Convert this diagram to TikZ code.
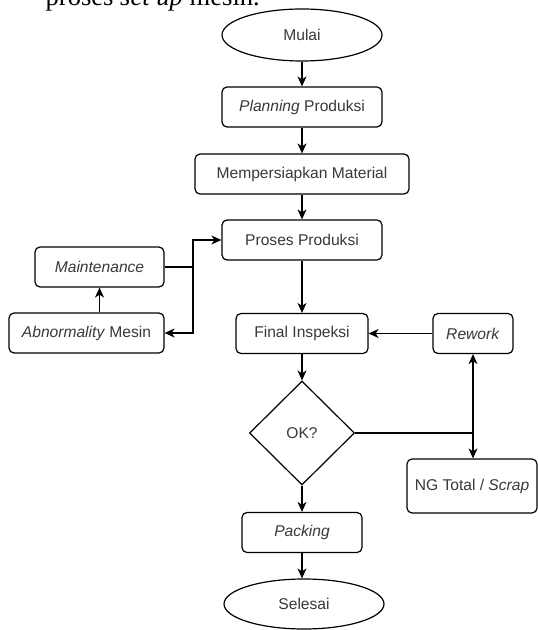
\documentclass[tikz,border=0pt]{standalone}
\usepackage{fontspec}
\setmainfont{Liberation Sans}
\newfontfamily\pageserif{Liberation Serif}
\usetikzlibrary{shapes.geometric,arrows.meta}

\begin{document}
\begin{tikzpicture}[x=0.5pt, y=-0.5pt, line width=0.6pt,
    every node/.style={font=\fontsize{7.8}{9.4}\selectfont, text=black!78},
    proc/.style={draw=black, rounded corners=2.5pt, inner sep=0pt, minimum height=20pt},
    term/.style={draw=black, ellipse, inner sep=0pt, minimum width=80pt, minimum height=26pt},
    decide/.style={draw=black, diamond, aspect=1, inner sep=0pt, minimum width=52.5pt, minimum height=52pt},
    flow/.style={-{Stealth[length=5pt,width=4.5pt,inset=1.5pt]}},
    bothflow/.style={{Stealth[length=5pt,width=4.5pt,inset=1.5pt]}-{Stealth[length=5pt,width=4.5pt,inset=1.5pt]}}]
    \useasboundingbox (0,0) rectangle (537,630);

    % text of the page above the chart
    \node[anchor=base west, inner sep=0pt, text=black, font=\pageserif\fontsize{13.3}{16}\selectfont] (pagetext) at (45,5.5) {proses \textit{set up} mesin.};

    % main column
    \node[term] (mulai) at (302,35) {Mulai};
    \node[proc, minimum width=80pt] (planning) at (302,107) {\textit{Planning} Produksi};
    \node[proc, minimum width=107pt] (material) at (302,174) {Mempersiapkan Material};
    \node[proc, minimum width=80pt] (proses) at (302,240) {Proses Produksi};
    \node[proc, minimum width=66pt] (inspeksi) at (302,333.5) {Final Inspeksi};
    \node[decide] (ok) at (302,433) {OK?};
    \node[proc, minimum width=60pt] (packing) at (302,532.5) {\textit{Packing}};
    \node[term, minimum height=25pt] (selesai) at (304,604) {Selesai};

    % side branches
    \node[proc, minimum width=64.5pt] (maint) at (99.5,267) {\textit{Maintenance}};
    \node[proc, minimum width=77.5pt] (abnorm) at (86.5,333) {\textit{Abnormality} Mesin};
    \node[proc, minimum width=40pt] (rework) at (473,333.5) {\textit{Rework}};
    \node[proc, minimum width=65pt, minimum height=27pt] (scrap) at (472,486) {NG Total / \textit{Scrap}};

    \coordinate (jmaint) at (193,267);
    \coordinate (jok) at (rework.south |- ok.east);

    % connectors
    \draw[flow] (mulai) -- (planning);
    \draw[flow] (planning) -- (material);
    \draw[flow] (material) -- (proses);
    \draw[flow] (proses) -- (inspeksi);
    \draw[flow] (inspeksi) -- (ok);
    \draw[flow] (ok) -- (packing);
    \draw[flow] (packing.south) -- (packing.south |- selesai.north);

    \draw (maint.east) -- (jmaint);
    \draw[flow] (jmaint) |- (proses.west);
    \draw[flow] (jmaint) |- (abnorm.east);
    \draw[flow] (maint.south |- abnorm.north) -- (maint.south);

    \draw[flow] (rework.west) -- (inspeksi.east);
    \draw (ok.east) -- (jok);
    \draw[bothflow] (rework.south) -- (rework.south |- scrap.north);
\end{tikzpicture}
\end{document}
